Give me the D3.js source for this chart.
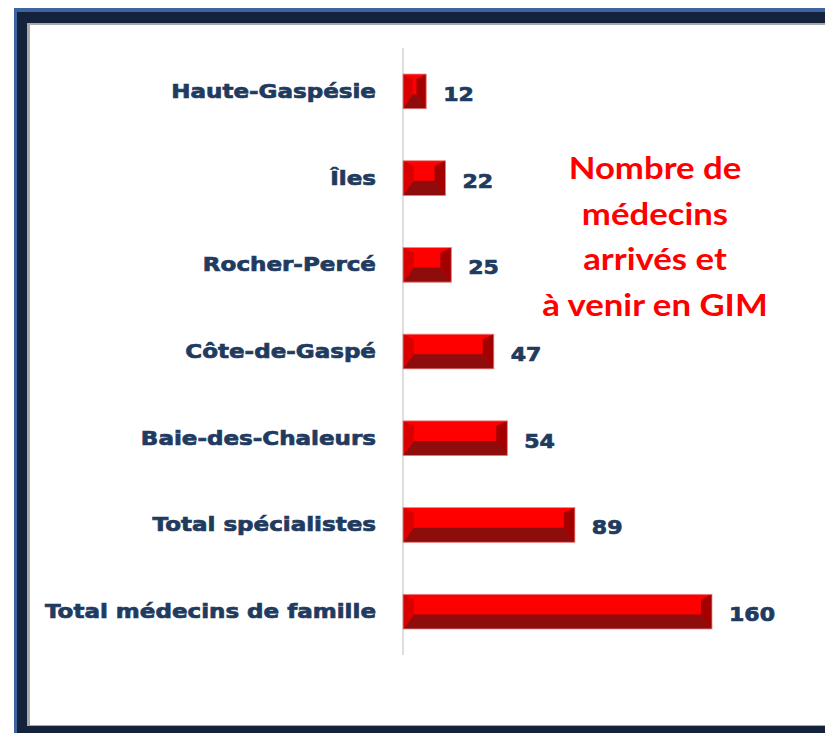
<!DOCTYPE html>
<html><head><meta charset="utf-8">
<script src="https://cdn.jsdelivr.net/npm/d3@7"></script>
<style>html,body{margin:0;padding:0;background:#fff;overflow:hidden}</style>
</head><body>
<svg id="chart" width="825" height="733"></svg>
<script>
const categories = ["Haute-Gaspésie","Îles","Rocher-Percé","Côte-de-Gaspé","Baie-des-Chaleurs","Total spécialistes","Total médecins de famille"];
const values = [12,22,25,47,54,89,160];
const annotationLines = ["Nombre de","médecins","arrivés et","à venir en GIM"];

const svg = d3.select("#chart");

// frame
svg.append("rect").attr("x",14).attr("y",8).attr("width",830).attr("height",740).attr("fill","#3e65a0");
svg.append("rect").attr("x",17).attr("y",12).attr("width",830).attr("height",740).attr("fill","#14233b");
svg.append("rect").attr("x",27).attr("y",23).attr("width",820).attr("height",703).attr("fill","#a9a9a9");
svg.append("rect").attr("x",30).attr("y",25).attr("width",820).attr("height",700).attr("fill","#ffffff");

const x = d3.scaleLinear().domain([0,160]).range([403,712]);
const y = d3.scaleBand().domain(categories).range([48,655]).paddingInner(0.6).paddingOuter(0.3);

// axis line
svg.append("line").attr("x1",403).attr("x2",403).attr("y1",48).attr("y2",655)
  .attr("stroke","#c8c8c8").attr("stroke-width",1.2);

const data = categories.map((c,i)=>({c, v: values[i]}));
const g = svg.append("g");
data.forEach(d=>{
  const x0 = x(0), w = x(d.v)-x(0), y0 = y(d.c), h = y.bandwidth();
  const b = Math.min(11, w*0.42), t = h*0.15, m = h*0.58;
  const bg = g.append("g").attr("transform",`translate(${x0},${y0})`);
  bg.append("rect").attr("width",w).attr("height",h).attr("fill","#ff0000");
  bg.append("polygon").attr("points",`0,${h} ${w},${h} ${w-b},${m} ${b},${m}`).attr("fill","#8e0c0c");
  bg.append("polygon").attr("points",`0,0 ${b},${t} ${b},${m} 0,${h}`).attr("fill","#d80000");
  bg.append("polygon").attr("points",`${w},0 ${w-b},${t} ${w-b},${m} ${w},${h}`).attr("fill","#a30000");
  bg.append("rect").attr("width",w).attr("height",h).attr("fill","none").attr("stroke","#e58a8a").attr("stroke-width",0.8);
});

function stretch(sel, k){
  sel.each(function(){
    const len = this.getComputedTextLength();
    d3.select(this).attr("textLength", len*k).attr("lengthAdjust","spacingAndGlyphs");
  });
}

// category labels
const catLabels = svg.append("g").selectAll("text").data(data).join("text")
  .attr("x",376).attr("y",d=>y(d.c)+y.bandwidth()/2)
  .attr("text-anchor","end").attr("dominant-baseline","central")
  .attr("font-family","DejaVu Sans").attr("font-weight","bold").attr("font-size",19.5)
  .attr("fill","#1f3b60").attr("stroke","#1f3b60").attr("stroke-width",0.7).text(d=>d.c);
stretch(catLabels, 1.18);

// value labels
const valLabels = svg.append("g").selectAll("text").data(data).join("text")
  .attr("x",d=>x(d.v)+17).attr("y",d=>y(d.c)+y.bandwidth()/2+3)
  .attr("dominant-baseline","central")
  .attr("font-family","DejaVu Sans").attr("font-weight","bold").attr("font-size",19.5)
  .attr("fill","#1f3b60").attr("stroke","#1f3b60").attr("stroke-width",0.7).text(d=>d.v);
stretch(valLabels, 1.13);

// annotation
const ann = svg.append("g").selectAll("text").data(annotationLines).join("text")
  .attr("x",655).attr("y",(d,i)=>179+i*45.7)
  .attr("text-anchor","middle")
  .attr("font-family","Lato").attr("font-weight","bold").attr("font-size",31)
  .attr("fill","#ff0000").text(d=>d);
stretch(ann, 1.12);
</script>
</body></html>
